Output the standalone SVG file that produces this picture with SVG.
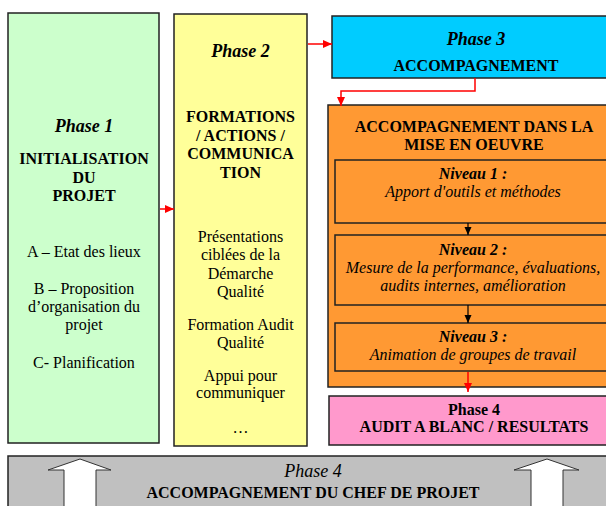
<svg xmlns="http://www.w3.org/2000/svg" width="606" height="506" viewBox="0 0 606 506">
<style>
.box{stroke:#222;stroke-width:1.5}
text{fill:#000;text-anchor:middle;font-family:"Times New Roman","Liberation Serif","DejaVu Serif",serif}
.ph{font-size:18px;font-weight:bold;font-style:italic}
.hd{font-size:16px;font-weight:bold}
.bd{font-size:16px}
.it{font-size:16px;font-style:italic}
.bi{font-size:16px;font-style:italic;font-weight:bold}
.red{stroke:#FF0000;stroke-width:1.5;fill:none}
.blk{stroke:#000;stroke-width:1.2;fill:none}
.blockarrow{fill:#fff;stroke:#333;stroke-width:1}
</style>
<defs>
<marker id="ra" markerUnits="userSpaceOnUse" markerWidth="10" markerHeight="10" refX="9" refY="5" orient="auto">
<path d="M0,1 L9,5 L0,9 Z" fill="#FF0000"/>
</marker>
<marker id="ba" markerUnits="userSpaceOnUse" markerWidth="10" markerHeight="10" refX="9" refY="5" orient="auto">
<path d="M1,1.5 L9,5 L1,8.5 Z" fill="#000"/>
</marker>
</defs>
<rect width="606" height="506" fill="#fff"/>
<g id="phase1">
<rect class="box" x="8" y="13" width="151" height="430" fill="#CCFFCC"/>
<text class="ph" x="84" y="132">Phase 1</text>
<text class="hd" x="84" y="164">INITIALISATION</text>
<text class="hd" x="84" y="183">DU</text>
<text class="hd" x="84" y="201">PROJET</text>
<text class="bd" x="84" y="257">A – Etat des lieux</text>
<text class="bd" x="84" y="294">B – Proposition</text>
<text class="bd" x="84" y="312">d’organisation du</text>
<text class="bd" x="84" y="330">projet</text>
<text class="bd" x="84" y="368">C- Planification</text>
</g>

<g id="phase2">
<rect class="box" x="174" y="14" width="133" height="432" fill="#FFFF99"/>
<text class="ph" x="240.5" y="57">Phase 2</text>
<text class="hd" x="240.5" y="122">FORMATIONS</text>
<text class="hd" x="240.5" y="141">/ ACTIONS /</text>
<text class="hd" x="240.5" y="159">COMMUNICA</text>
<text class="hd" x="240.5" y="178">TION</text>
<text class="bd" x="240.5" y="242">Présentations</text>
<text class="bd" x="240.5" y="260">ciblées de la</text>
<text class="bd" x="240.5" y="279">Démarche</text>
<text class="bd" x="240.5" y="297">Qualité</text>
<text class="bd" x="240.5" y="330">Formation Audit</text>
<text class="bd" x="240.5" y="348">Qualité</text>
<text class="bd" x="240.5" y="381">Appui pour</text>
<text class="bd" x="240.5" y="398">communiquer</text>
<text class="bd" x="240.5" y="433">…</text>
</g>

<g id="phase3">
<rect class="box" x="332" y="16" width="290" height="62" fill="#00CCFF"/>
<text class="ph" x="476" y="45">Phase 3</text>
<text class="hd" x="476" y="71">ACCOMPAGNEMENT</text>
</g>

<g id="mise-en-oeuvre">
<rect class="box" x="328" y="105" width="292" height="282" fill="#FF9933"/>
<text class="hd" x="474" y="132">ACCOMPAGNEMENT DANS LA</text>
<text class="hd" x="474" y="150">MISE EN OEUVRE</text>
</g>

<g id="niveau1">
<rect class="box" x="335" y="160" width="278" height="63" fill="#FF9933"/>
<text class="bi" x="473" y="179">Niveau 1 :</text>
<text class="it" x="473" y="197">Apport d'outils et méthodes</text>
</g>

<g id="niveau2">
<rect class="box" x="335" y="235" width="278" height="70" fill="#FF9933"/>
<text class="bi" x="473" y="255">Niveau 2 :</text>
<text class="it" x="473" y="273">Mesure de la performance, évaluations,</text>
<text class="it" x="473" y="291">audits internes, amélioration</text>
</g>

<g id="niveau3">
<rect class="box" x="335" y="323" width="278" height="48" fill="#FF9933"/>
<text class="bi" x="473" y="342">Niveau 3 :</text>
<text class="it" x="473" y="360">Animation de groupes de travail</text>
</g>

<g id="phase4-audit">
<rect class="box" x="329" y="396" width="291" height="49" fill="#FF99CC"/>
<text class="hd" x="474" y="415">Phase 4</text>
<text class="hd" x="474" y="432">AUDIT A BLANC / RESULTATS</text>
</g>

<g id="phase4-chef">
<rect class="box" x="8" y="456" width="614" height="60" fill="#C0C0C0"/>
<path class="blockarrow" d="M80,459 L111,470 L96,470 L96,508 L64,508 L64,470 L48,470 Z"/>
<path class="blockarrow" d="M547,459 L579,470 L563,470 L563,508 L531,508 L531,470 L514,470 Z"/>
<text x="313" y="477" style="font-size:18px;font-style:italic">Phase 4</text>
<text class="hd" x="313" y="498">ACCOMPAGNEMENT DU CHEF DE PROJET</text>
</g>

<g id="connectors">
<line class="red" x1="160" y1="209" x2="174" y2="209" marker-end="url(#ra)"/>
<line class="red" x1="308" y1="44" x2="332" y2="44" marker-end="url(#ra)"/>
<polyline class="red" points="475,78 475,91 341,91 341,106" marker-end="url(#ra)"/>
<line class="blk" x1="468" y1="223" x2="468" y2="235" marker-end="url(#ba)"/>
<line class="blk" x1="468" y1="305" x2="468" y2="323" marker-end="url(#ba)"/>
<line class="red" x1="468" y1="372" x2="468" y2="392" marker-end="url(#ra)"/>
</g>
</svg>
